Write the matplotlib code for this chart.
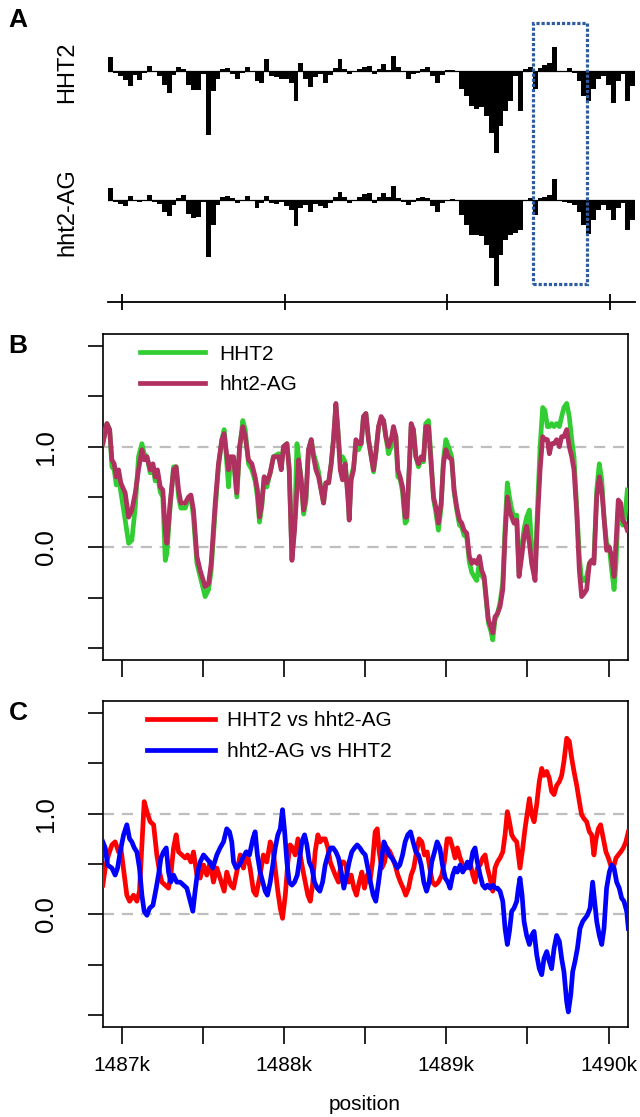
import matplotlib
matplotlib.use('Agg')
import matplotlib.pyplot as plt
import matplotlib.transforms as mtransforms
from matplotlib.patches import Rectangle
import numpy as np

plt.rcParams['font.family'] = ['Liberation Sans', 'DejaVu Sans']

W, H = 640, 1117

# ---- panel A: per-bin signal tracks (30 bp bins) ----
A_START, A_STEP = 1486915, 30
hht2_track = [14, -2, -5, -9, -15, -4, -9, -2, 5, -1,
              -5, -14, -22, -4, 4, 2, -14, -19, -19, -3,
              -64, -20, -8, 2, 3, -3, -8, -2, 4, 0,
              -10, -12, 12, -5, -6, -8, -8, -12, -30, 8,
              -8, -16, -6, -3, -12, -4, 3, 12, 2, -3,
              -1, 2, 4, 5, -3, 2, 7, 1, 15, 4,
              0, -8, -3, -2, 2, 4, -5, -12, -4, 1,
              1, 0, -18, -25, -35, -38, -36, -45, -62, -82,
              -55, -40, -30, -5, -40, 2, 4, -18, 3, 6,
              8, 24, 0, 0, 3, -2, -10, -25, -30, -18,
              -8, -5, -14, -32, -10, -3, -30, -15]
ag_track = [12, -2, -4, -6, 4, -1, -2, 0, 5, -2,
            -4, -12, -16, -5, 2, 5, -14, -18, -17, -2,
            -57, -25, -5, 3, 4, 2, -3, 0, 4, 0,
            -8, -3, 4, -3, -4, -2, -6, -10, -26, -8,
            -5, -12, -4, -6, -8, -3, 3, 8, 3, -3,
            0, 3, 6, 7, -3, 3, 7, 3, 14, 2,
            -2, -5, -2, 2, 3, 2, -6, -12, -3, 0,
            1, 0, -15, -25, -35, -35, -36, -45, -58, -86,
            -55, -40, -35, -33, -30, 0, 2, -15, 2, 3,
            5, 21, 0, -2, -3, -5, -12, -25, -34, -20,
            -10, -5, -10, -20, -8, -3, -30, -20]
track_names = ['HHT2', 'hht2-AG']
highlight = (1489526, 1489858)

# ---- panel B: smoothed profiles ----
b_pos = [1486882, 1486907, 1486924, 1486938, 1486952, 1486965, 1486979, 1486993, 1487020, 1487041,
         1487061, 1487082, 1487102, 1487123, 1487137, 1487154, 1487174, 1487191, 1487205, 1487219,
         1487236, 1487252, 1487267, 1487277, 1487297, 1487318, 1487334, 1487349, 1487363, 1487390,
         1487410, 1487425, 1487441, 1487462, 1487482, 1487513, 1487534, 1487550, 1487575, 1487595,
         1487616, 1487630, 1487642, 1487657, 1487667, 1487688, 1487708, 1487725, 1487745, 1487760,
         1487780, 1487801, 1487821, 1487835, 1487848, 1487862, 1487877, 1487893, 1487914, 1487934,
         1487966, 1487982, 1487996, 1488017, 1488031, 1488048, 1488064, 1488079, 1488089, 1488105,
         1488120, 1488134, 1488150, 1488167, 1488181, 1488196, 1488212, 1488228, 1488243, 1488257,
         1488274, 1488290, 1488304, 1488319, 1488331, 1488346, 1488360, 1488376, 1488393, 1488401,
         1488413, 1488428, 1488442, 1488459, 1488475, 1488489, 1488504, 1488520, 1488537, 1488551,
         1488565, 1488582, 1488598, 1488613, 1488627, 1488643, 1488660, 1488674, 1488689, 1488701,
         1488715, 1488730, 1488746, 1488756, 1488771, 1488783, 1488797, 1488812, 1488828, 1488845,
         1488859, 1488873, 1488890, 1488906, 1488921, 1488935, 1488951, 1488968, 1488982, 1488997,
         1489013,
         1489033, 1489048, 1489064, 1489081, 1489095, 1489109, 1489126, 1489142, 1489157, 1489171,
         1489187, 1489204, 1489218, 1489233, 1489245, 1489259, 1489274, 1489286, 1489300, 1489315,
         1489331, 1489348, 1489362, 1489376, 1489389, 1489403, 1489417, 1489434, 1489448, 1489465,
         1489479, 1489495, 1489512, 1489526, 1489547, 1489561, 1489578, 1489594, 1489608, 1489623,
         1489635, 1489649, 1489664, 1489680, 1489697, 1489711, 1489725, 1489742, 1489758, 1489773,
         1489787, 1489804, 1489820, 1489834, 1489849, 1489865, 1489882, 1489896, 1489910, 1489927,
         1489943, 1489958, 1489972, 1489988, 1490005, 1490019, 1490034, 1490046, 1490060, 1490075,
         1490087, 1490101, 1490116]
b_hht2 = [1.03, 1.23, 1.17, 0.80, 0.77, 0.62, 0.70, 0.55, 0.27, 0.04,
          0.07, 0.40, 0.90, 1.03, 0.93, 0.90, 0.74, 0.80, 0.66, 0.72,
          0.55, 0.50, -0.13, -0.06, 0.40, 0.80, 0.80, 0.50, 0.39, 0.39,
          0.48, 0.50, 0.30, -0.16, -0.29, -0.49, -0.42, -0.23, 0.37, 0.80,
          1.07, 1.17, 0.93, 0.60, 0.83, 0.87, 0.50, 0.97, 1.26, 1.17,
          0.83, 0.77, 0.66, 0.50, 0.25, 0.40, 0.70, 0.60, 0.74, 0.90,
          0.93, 0.80, 1.00, 1.03, 0.80, -0.10, 0.20, 1.03, 0.90, 0.67,
          0.33, 0.45, 0.97, 1.07, 0.93, 0.85, 0.75, 0.57, 0.44, 0.64,
          0.64, 0.83, 1.07, 1.40, 1.17, 0.85, 0.90, 0.85, 0.52, 0.30,
          0.70, 0.80, 1.00, 0.97, 1.03, 1.30, 1.33, 1.07, 0.90, 0.75,
          0.93, 1.20, 1.28, 1.26, 1.10, 0.93, 1.00, 1.17, 1.10, 0.70,
          0.68, 0.55, 0.24, 0.26, 0.77, 1.20, 1.17, 0.90, 0.80, 0.87,
          0.85, 1.23, 1.26, 0.87, 0.48, 0.35, 0.17, 0.40, 0.87, 1.07,
          1.00,
          0.90, 0.55, 0.37, 0.22, 0.20, 0.12, 0.10, -0.15, -0.25, -0.29,
          -0.33, -0.15, -0.28, -0.32, -0.52, -0.75, -0.83, -0.92, -0.72, -0.66,
          -0.55, -0.35, 0.20, 0.64, 0.50, 0.38, 0.30, 0.32, -0.25, 0.00,
          0.18, 0.30, 0.37, 0.00, -0.25, 0.35, 1.00, 1.39, 1.36, 1.20,
          1.20, 1.23, 1.20, 1.23, 1.20, 1.30, 1.39, 1.43, 1.30, 1.07,
          0.90, 0.40, -0.09, -0.33, -0.33, -0.29, -0.16, -0.13, -0.12, 0.57,
          0.83, 0.67, 0.30, 0.04, 0.00, -0.22, -0.42, -0.16, 0.37, 0.30,
          0.22, 0.30, 0.57]
b_ag = [1.03, 1.23, 1.17, 0.87, 0.83, 0.70, 0.77, 0.64, 0.54, 0.30,
        0.37, 0.54, 0.77, 0.97, 0.87, 0.90, 0.77, 0.83, 0.70, 0.77,
        0.60, 0.57, 0.17, 0.04, 0.44, 0.77, 0.80, 0.57, 0.44, 0.44,
        0.50, 0.52, 0.37, -0.09, -0.23, -0.39, -0.36, -0.16, 0.44, 0.83,
        1.07, 1.13, 0.97, 0.77, 0.90, 0.90, 0.54, 1.00, 1.20, 1.10,
        0.87, 0.83, 0.70, 0.57, 0.30, 0.44, 0.70, 0.64, 0.74, 0.90,
        0.90, 0.77, 1.00, 1.03, 0.77, -0.13, 0.17, 0.57, 0.87, 0.67,
        0.37, 0.50, 0.97, 1.07, 0.90, 0.77, 0.70, 0.57, 0.44, 0.64,
        0.64, 0.83, 1.07, 1.43, 1.17, 0.77, 0.67, 0.83, 0.50, 0.27,
        0.67, 0.77, 1.07, 1.03, 1.03, 1.30, 1.33, 1.07, 0.90, 0.77,
        0.93, 1.20, 1.30, 1.26, 1.10, 1.00, 1.07, 1.20, 1.10, 0.77,
        0.70, 0.60, 0.30, 0.30, 0.77, 1.23, 1.17, 0.90, 0.83, 0.90,
        0.87, 1.20, 1.20, 0.83, 0.50, 0.40, 0.24, 0.44, 0.83, 0.97,
        0.90,
        0.87, 0.57, 0.40, 0.27, 0.24, 0.17, 0.14, -0.09, -0.16, -0.13,
        -0.16, -0.09, -0.23, -0.29, -0.49, -0.72, -0.79, -0.85, -0.69, -0.66,
        -0.59, -0.42, 0.11, 0.50, 0.37, 0.30, 0.24, 0.27, -0.29, -0.09,
        0.11, 0.21, 0.04, -0.16, -0.33, 0.24, 0.77, 1.10, 1.07, 1.07,
        0.93, 1.03, 1.03, 1.07, 1.00, 1.10, 1.10, 1.17, 1.00, 0.90,
        0.77, 0.34, -0.23, -0.49, -0.46, -0.42, -0.16, -0.13, -0.16, 0.50,
        0.70, 0.57, 0.30, -0.03, 0.00, -0.09, -0.29, 0.04, 0.47, 0.44,
        0.27, 0.24, 0.17]

# ---- panel C: pairwise differences ----
c_red_pos = [1486882, 1486897, 1486917, 1486938, 1486958, 1486979, 1486993, 1487014, 1487030, 1487047,
             1487071, 1487092, 1487108, 1487123, 1487137, 1487154, 1487174, 1487195, 1487215, 1487232,
             1487246, 1487267, 1487287, 1487301, 1487318, 1487334, 1487349, 1487369, 1487390, 1487404,
             1487425, 1487441, 1487462, 1487482, 1487503, 1487523, 1487544, 1487564, 1487585, 1487605,
             1487630, 1487646, 1487671, 1487688, 1487708, 1487729, 1487749, 1487770, 1487790, 1487811,
             1487827, 1487848, 1487872, 1487893, 1487914, 1487930,
             1487961, 1487976, 1487990, 1488007, 1488023, 1488037, 1488052, 1488068, 1488085, 1488099,
             1488113, 1488130, 1488146, 1488161, 1488175, 1488191, 1488208, 1488222, 1488237, 1488253,
             1488270, 1488284, 1488298, 1488315, 1488335, 1488352, 1488366, 1488380, 1488397, 1488413,
             1488430, 1488446, 1488463, 1488479, 1488495, 1488512, 1488528, 1488545, 1488561, 1488574,
             1488586, 1488602, 1488619, 1488635, 1488652, 1488668, 1488684, 1488701, 1488717, 1488734,
             1488750, 1488767, 1488783, 1488799, 1488816, 1488832, 1488849, 1488865, 1488882, 1488898,
             1488914, 1488931, 1488951, 1488972, 1488988, 1489005,
             1489023, 1489039, 1489054, 1489068, 1489085, 1489101, 1489115, 1489130, 1489146, 1489163,
             1489177, 1489191, 1489208, 1489224, 1489239, 1489253, 1489269, 1489286, 1489300, 1489315,
             1489331, 1489348, 1489362, 1489376, 1489389, 1489403, 1489417, 1489434, 1489444, 1489454,
             1489471, 1489485, 1489500, 1489512, 1489526, 1489541, 1489557, 1489573, 1489588, 1489602,
             1489619, 1489635, 1489649, 1489664, 1489680, 1489697, 1489711, 1489725, 1489742, 1489758,
             1489773, 1489787, 1489804, 1489820, 1489834, 1489849, 1489865, 1489882, 1489896, 1489910,
             1489923, 1489937, 1489951, 1489968, 1489984, 1489999, 1490013, 1490029, 1490046, 1490060,
             1490075, 1490091, 1490107, 1490122]
c_red = [0.29, 0.46, 0.59, 0.69, 0.72, 0.62, 0.66, 0.39, 0.19, 0.13,
         0.19, 0.13, 0.23, 0.69, 1.12, 1.02, 0.92, 0.89, 0.59, 0.42,
         0.32, 0.29, 0.26, 0.39, 0.66, 0.79, 0.62, 0.59, 0.56, 0.59,
         0.52, 0.62, 0.39, 0.36, 0.49, 0.39, 0.52, 0.32, 0.46, 0.36,
         0.23, 0.42, 0.29, 0.26, 0.42, 0.59, 0.46, 0.62, 0.46, 0.23,
         0.19, 0.36, 0.59, 0.52, 0.72, 0.66,
         0.23, 0.06, -0.04, 0.19, 0.52, 0.69, 0.66, 0.59, 0.75, 0.59,
         0.46, 0.32, 0.19, 0.13, 0.29, 0.62, 0.79, 0.72, 0.75, 0.75,
         0.66, 0.52, 0.46, 0.39, 0.32, 0.52, 0.52, 0.49, 0.32, 0.39,
         0.26, 0.19, 0.32, 0.42, 0.26, 0.39, 0.32, 0.52, 0.82, 0.85,
         0.62, 0.46, 0.52, 0.66, 0.62, 0.56, 0.49, 0.39, 0.32, 0.26,
         0.19, 0.26, 0.39, 0.46, 0.62, 0.75, 0.72, 0.59, 0.62, 0.46,
         0.32, 0.29, 0.32, 0.39, 0.52, 0.75,
         0.75, 0.66, 0.56, 0.66, 0.56, 0.49, 0.46, 0.46, 0.52, 0.39,
         0.32, 0.46, 0.49, 0.56, 0.59, 0.46, 0.36, 0.23, 0.46, 0.52,
         0.56, 0.62, 0.79, 1.02, 0.92, 0.79, 0.75, 0.72, 0.59, 0.46,
         0.66, 0.85, 1.02, 1.15, 0.99, 0.92, 1.09, 1.32, 1.45, 1.38,
         1.42, 1.35, 1.22, 1.19, 1.28, 1.32, 1.38, 1.52, 1.75, 1.72,
         1.55, 1.42, 1.28, 1.12, 0.99, 0.95, 0.92, 0.82, 0.79, 0.59,
         0.75, 0.85, 0.89, 0.75, 0.62, 0.56, 0.49, 0.46, 0.56, 0.59,
         0.62, 0.66, 0.72, 0.82]
c_blue_pos = [1486882, 1486897, 1486911, 1486938, 1486958, 1486973, 1486989, 1487010, 1487030, 1487047,
              1487061, 1487076, 1487092, 1487108, 1487123, 1487137, 1487154, 1487170, 1487191, 1487211,
              1487225, 1487240, 1487256, 1487273, 1487287, 1487301, 1487318, 1487338, 1487359, 1487380,
              1487400, 1487421, 1487437, 1487451, 1487466, 1487482, 1487503, 1487519, 1487540, 1487560,
              1487585, 1487605, 1487626, 1487646, 1487663, 1487677, 1487688, 1487704, 1487725, 1487745,
              1487766, 1487786, 1487807, 1487821, 1487835, 1487852, 1487868, 1487883, 1487897, 1487914,
              1487930,
              1487945, 1487961, 1487976, 1487990, 1488003, 1488017, 1488031, 1488048, 1488064, 1488081,
              1488093, 1488109, 1488126, 1488140, 1488155, 1488171, 1488187, 1488204, 1488220, 1488237,
              1488253, 1488270, 1488286, 1488302, 1488319, 1488335, 1488352, 1488368, 1488385, 1488401,
              1488417, 1488434, 1488450, 1488467, 1488483, 1488500, 1488516, 1488532, 1488549, 1488565,
              1488582, 1488598, 1488615, 1488631, 1488647, 1488664, 1488680, 1488697, 1488713, 1488730,
              1488746, 1488762, 1488779, 1488795, 1488812, 1488828, 1488845, 1488861, 1488878, 1488894,
              1488910, 1488927, 1488943, 1488960, 1488976, 1488993, 1489009,
              1489023, 1489039, 1489054, 1489068, 1489085, 1489101, 1489115, 1489130, 1489146, 1489163,
              1489177, 1489191, 1489208, 1489224, 1489239, 1489253, 1489269, 1489286, 1489300, 1489315,
              1489331, 1489348, 1489362, 1489376, 1489389, 1489403, 1489417, 1489434, 1489444, 1489454,
              1489467, 1489479, 1489495, 1489512, 1489526, 1489541, 1489557, 1489573, 1489588, 1489602,
              1489619, 1489635, 1489649, 1489664, 1489680, 1489697, 1489711, 1489725, 1489742, 1489752,
              1489767, 1489779, 1489793, 1489808, 1489824, 1489841, 1489855, 1489869, 1489886, 1489902,
              1489914, 1489927, 1489943, 1489958, 1489972, 1489988, 1490005, 1490019, 1490034, 1490050,
              1490066, 1490081, 1490095, 1490112, 1490122]
c_blue = [0.72, 0.66, 0.49, 0.46, 0.39, 0.46, 0.62, 0.79, 0.89, 0.75,
          0.72, 0.66, 0.62, 0.46, 0.19, 0.03, -0.01, 0.06, 0.09, 0.26,
          0.39, 0.56, 0.62, 0.66, 0.42, 0.32, 0.39, 0.32, 0.32, 0.29,
          0.26, 0.13, 0.03, 0.23, 0.42, 0.52, 0.59, 0.56, 0.52, 0.46,
          0.59, 0.66, 0.72, 0.85, 0.82, 0.72, 0.52, 0.46, 0.49, 0.56,
          0.62, 0.59, 0.75, 0.82, 0.59, 0.42, 0.32, 0.23, 0.19, 0.32,
          0.49,
          0.66, 0.79, 0.85, 1.04, 0.82, 0.52, 0.32, 0.29, 0.32, 0.39,
          0.52, 0.72, 0.79, 0.69, 0.52, 0.46, 0.32, 0.26, 0.23, 0.32,
          0.49, 0.59, 0.66, 0.66, 0.62, 0.56, 0.42, 0.26, 0.39, 0.52,
          0.62, 0.66, 0.69, 0.66, 0.62, 0.59, 0.46, 0.32, 0.19, 0.13,
          0.32, 0.52, 0.72, 0.66, 0.59, 0.56, 0.52, 0.46, 0.49, 0.59,
          0.72, 0.79, 0.82, 0.72, 0.62, 0.59, 0.49, 0.32, 0.23, 0.32,
          0.52, 0.62, 0.72, 0.66, 0.49, 0.36, 0.32,
          0.26, 0.39, 0.46, 0.42, 0.49, 0.42, 0.46, 0.52, 0.46, 0.62,
          0.66, 0.52, 0.39, 0.29, 0.26, 0.29, 0.26, 0.29, 0.26, 0.26,
          0.23, 0.13, -0.14, -0.30, -0.17, 0.03, 0.06, 0.13, 0.26, 0.36,
          0.19, -0.07, -0.21, -0.30, -0.21, -0.17, -0.40, -0.54, -0.60, -0.44,
          -0.37, -0.47, -0.54, -0.34, -0.21, -0.27, -0.44, -0.57, -0.87, -0.97,
          -0.80, -0.57, -0.47, -0.34, -0.14, -0.07, -0.04, -0.01, 0.06, 0.32,
          0.13, -0.07, -0.21, -0.30, -0.14, 0.26, 0.42, 0.49, 0.46, 0.32,
          0.26, 0.16, 0.13, 0.03, -0.14]

b_labels = ['HHT2', 'hht2-AG']
c_labels = ['HHT2 vs hht2-AG', 'hht2-AG vs HHT2']
y_ticks = [-1.0, -0.5, 0.0, 0.5, 1.0, 1.5, 2.0]
y_ticklabels = ['', '', '0.0', '', '1.0', '', '']
x_ticks = [1487000, 1487500, 1488000, 1488500, 1489000, 1489500, 1490000]
x_ticklabels = ['1487k', '', '1488k', '', '1489k', '', '1490k']

GREEN, MAROON = '#32CD32', '#B03060'
XLIM = (1486880, 1490120)
A_XLIM = (1486914, 1490154)


def fig_rect(left, top, right, bottom):
    # pixel box -> figure fraction [l, b, w, h]
    return [left / W, 1 - bottom / H, (right - left) / W, (bottom - top) / H]


fig = plt.figure(figsize=(W / 100, H / 100), dpi=100)

# panel A tracks
a_centers = A_START + A_STEP * (np.arange(len(hht2_track)) + 0.5)
track_axes = []
for vals, (top, bot) in zip([hht2_track, ag_track], [(41, 161), (170, 290)]):
    ax = fig.add_axes(fig_rect(108, top, 635, bot))
    ax.bar(a_centers, vals, width=A_STEP, color='black', linewidth=0)
    ax.axhline(0, color='black', lw=0.9)
    ax.set_xlim(*A_XLIM)
    ax.set_ylim(-90, 30)
    ax.axis('off')
    track_axes.append(ax)

for name, yc in zip(track_names, [72, 212]):
    fig.text(67 / W, 1 - yc / H, name, rotation=90, fontsize=17,
             ha='center', va='center')

# coordinate bar under the tracks
ax_pos = fig.add_axes(fig_rect(108, 301, 635, 302))
ax_pos.set_xlim(*A_XLIM)
ax_pos.set_yticks([])
ax_pos.set_xticks([1487000, 1488000, 1489000, 1490000])
ax_pos.tick_params(axis='x', direction='inout', length=12, width=1.3,
                   labelbottom=False)
for side in ['top', 'left', 'right']:
    ax_pos.spines[side].set_visible(False)
ax_pos.spines['bottom'].set_linewidth(1.3)
ax_pos.patch.set_visible(False)

# dotted box around the highlighted region, spanning both tracks
trans = mtransforms.blended_transform_factory(track_axes[0].transData, fig.transFigure)
box = Rectangle((highlight[0], 1 - 284 / H), highlight[1] - highlight[0], (284 - 23) / H,
                transform=trans, fill=False, edgecolor='#2E5C9E', lw=2.3,
                linestyle=(0, (1, 0.6)), clip_on=False)
fig.add_artist(box)


def style_axes(ax, show_labels):
    ax.set_xlim(*XLIM)
    ax.set_ylim(-1.12, 2.12)
    for v in (0.0, 1.0):
        ax.axhline(v, color='#BEBEBE', lw=1.6, linestyle=(0, (5, 3.5)), zorder=1)
    ax.set_yticks(y_ticks)
    ax.set_yticklabels(y_ticklabels)
    ax.set_xticks(x_ticks)
    if show_labels:
        ax.set_xticklabels(x_ticklabels)
    else:
        ax.set_xticklabels([''] * len(x_ticks))
    ax.tick_params(axis='y', length=11, width=1.2, pad=21, labelsize=18.5,
                   labelrotation=90)
    ax.tick_params(axis='x', length=12, width=1.2, pad=9, labelsize=15)
    for lab in ax.get_yticklabels():
        lab.set_va('center')
    for sp in ax.spines.values():
        sp.set_linewidth(1.2)


# panel B
axB = fig.add_axes(fig_rect(102.5, 334, 628, 660))
style_axes(axB, False)
axB.plot(b_pos, b_hht2, color=GREEN, lw=3.4, label=b_labels[0], zorder=3)
axB.plot(b_pos, b_ag, color=MAROON, lw=3.4, label=b_labels[1], zorder=4)
axB.legend(loc='upper left', bbox_to_anchor=(0.0714, 0.967), frameon=False,
           fontsize=15, handlelength=3.1, handletextpad=0.72, labelspacing=0.55,
           borderpad=0, borderaxespad=0)

# panel C
axC = fig.add_axes(fig_rect(102.5, 701, 628, 1027))
style_axes(axC, True)
axC.plot(c_red_pos, c_red, color='#FF0000', lw=3.4, label=c_labels[0], zorder=3)
axC.plot(c_blue_pos, c_blue, color='#0000FF', lw=3.4, label=c_labels[1], zorder=4)
axC.legend(loc='upper left', bbox_to_anchor=(0.084, 0.968), frameon=False,
           fontsize=15, handlelength=3.26, handletextpad=0.62, labelspacing=0.55,
           borderpad=0, borderaxespad=0)

fig.text(365 / W, 1 - 1105 / H, 'position', fontsize=15, ha='center', va='center')

for letter, yc in zip(['A', 'B', 'C'], [20, 346, 713]):
    fig.text(18 / W, 1 - yc / H, letter, fontsize=19, fontweight='bold',
             ha='center', va='center')

fig.savefig('out.png', dpi=100)
